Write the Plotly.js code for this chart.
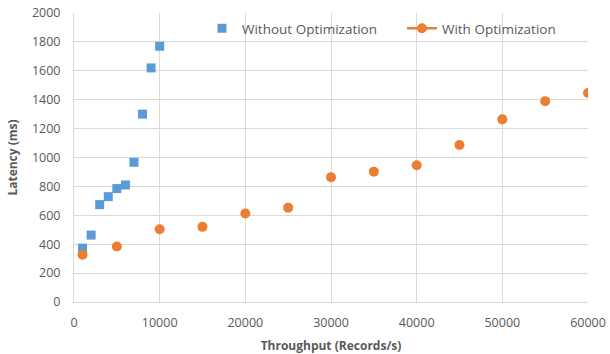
<!DOCTYPE html>
<html><head><meta charset="utf-8">
<script src="https://cdn.plot.ly/plotly-3.0.1.min.js"></script>
<style>html,body{margin:0;padding:0;background:#fff}#chart{width:610px;height:354px}</style>
</head><body><div id="chart"></div>
<script>
const withoutX = [1000, 2000, 3000, 4000, 5000, 6000, 7000, 8000, 9000, 10000];
const withoutY = [373, 463, 674, 729, 785, 810, 967, 1300, 1620, 1770];
const withX = [1000, 5000, 10000, 15000, 20000, 25000, 30000, 35000, 40000, 45000, 50000, 55000, 60000];
const withY = [327, 384, 504, 520, 612, 653, 863, 902, 946, 1086, 1264, 1390, 1446];

const blue = '#5b9bd5', orange = '#ed7d31';
const font = 'Open Sans, sans-serif';
const traces = [
  {x: withoutX, y: withoutY, mode: 'markers', type: 'scatter', name: 'Without Optimization',
   legend: 'legend', marker: {symbol: 'square', size: 9, color: blue}},
  {x: withX, y: withY, mode: 'markers', type: 'scatter', name: 'With Optimization', showlegend: false,
   marker: {symbol: 'circle', size: 10, color: orange}},
  {x: [null], y: [null], mode: 'lines+markers', type: 'scatter', name: 'With Optimization',
   legend: 'legend2', line: {color: orange, width: 2.5}, marker: {symbol: 'circle', size: 10, color: orange}}
];
const legFont = {family: font, size: 13.5, color: '#595959'};
const layout = {
  width: 610, height: 354,
  margin: {l: 74, r: 22, t: 13, b: 52},
  paper_bgcolor: '#fff', plot_bgcolor: '#fff',
  font: {family: font, size: 12, color: '#595959'},
  showlegend: true,
  legend: {orientation: 'h', x: 0.249, xanchor: 'left', y: 1.0, yanchor: 'top',
           bgcolor: 'rgba(0,0,0,0)', font: legFont},
  legend2: {orientation: 'h', x: 0.638, xanchor: 'left', y: 1.0, yanchor: 'top',
           bgcolor: 'rgba(0,0,0,0)', font: legFont},
  xaxis: {range: [0, 60000], dtick: 10000, tick0: 0, showgrid: true, gridcolor: '#d9d9d9', gridwidth: 1,
          showline: true, linecolor: '#d9d9d9', linewidth: 1, zeroline: false, ticks: '',
          tickformat: 'd', tickfont: {size: 12.5, color: '#595959'}, ticklabelstandoff: 9,
          title: {text: '<b>Throughput (Records/s)</b>', font: {size: 12, color: '#595959'}, standoff: 11}},
  yaxis: {range: [0, 2000], dtick: 200, tick0: 0, showgrid: true, gridcolor: '#d9d9d9', gridwidth: 1,
          showline: true, linecolor: '#d9d9d9', linewidth: 1, zeroline: false, ticks: '',
          tickfont: {size: 12.5, color: '#595959'}, ticklabelstandoff: 10,
          title: {text: '<b>Latency (ms)</b>', font: {size: 12, color: '#595959'}, standoff: 11}}
};
Plotly.newPlot('chart', traces, layout, {displayModeBar: false, staticPlot: true});
</script></body></html>
